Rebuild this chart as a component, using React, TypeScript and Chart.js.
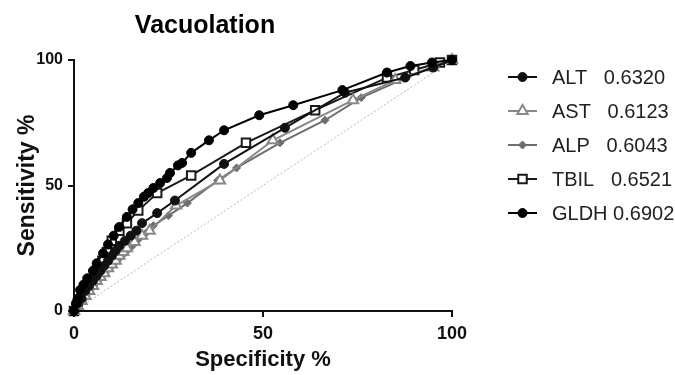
import React, { useEffect, useRef } from 'react';
import { Chart, registerables } from 'chart.js';

Chart.register(...registerables);

const TITLE = 'Vacuolation';
const X_TITLE = 'Specificity %';
const Y_TITLE = 'Sensitivity %';
const TICKS = [0, 50, 100];
const SERIES_NAMES = ['ALT', 'AST', 'ALP', 'TBIL', 'GLDH'];
const LEGEND_LABELS = ['ALT   0.6320', 'AST   0.6123', 'ALP   0.6043', 'TBIL   0.6521', 'GLDH 0.6902'];

const altX = [0, 1, 2, 3, 4, 5, 6, 7, 8, 9, 10, 11, 12, 13.5, 15, 16.5, 18, 22, 26.7, 39.7, 55.8, 71.7, 87.6, 95, 100];
const altY = [0, 3, 5, 8, 10, 12, 14, 16, 18, 20, 22, 24, 26, 28, 30, 32, 35, 39, 44, 58.6, 73, 87, 93, 97, 100];

const astX = [0, 1, 2, 3, 4, 5, 6, 7, 8, 9, 10, 11, 12, 13, 14, 16, 18, 20, 27, 38.6, 52.6, 73.8, 85, 95, 100];
const astY = [0, 2, 4, 6, 8, 10, 12, 13.5, 15, 17, 18.5, 20, 22, 23.5, 25, 27.5, 30, 32, 42, 52, 68, 84, 92, 97, 100];

const alpX = [0, 1, 2, 3, 4, 5, 6, 7, 8, 9, 10, 11, 12, 13, 14, 15.5, 17, 19, 21, 25, 30, 38, 43, 54.5, 66.4, 76, 88, 96, 100];
const alpY = [0, 2, 4, 5.5, 7.5, 9.5, 11.5, 13, 15, 16.5, 18, 19.5, 21, 22.5, 24, 26, 28.5, 31, 34, 38, 43, 52, 57, 67, 76, 85, 93, 98, 100];

const tbilX = [0, 1, 2, 3, 4.5, 6, 7.5, 8.7, 10, 12, 14, 17, 22, 31, 45.5, 63.8, 82.8, 90, 96.8, 100];
const tbilY = [0, 3, 6, 9, 12, 16, 20, 23.5, 28, 32, 35, 40, 47, 54, 67, 80, 93, 96, 99, 100];

const gldhX = [0, 0.5, 1, 1.6, 2.5, 3.5, 5, 6, 7.7, 9, 10.5, 12, 14, 15.5, 17, 18.5, 19.6, 21, 22.8, 24.6, 25.4, 27.5, 28.6, 31, 35.7, 39.7, 49, 58, 71, 82.8, 89, 94.7, 100];
const gldhY = [0, 3, 5, 8.4, 10.5, 13, 16, 19, 23, 26.5, 30, 33.5, 37.5, 40.5, 43, 45.5, 47, 49, 51, 53, 55, 58, 59, 63, 68, 72, 78, 82, 88, 95, 97.6, 99, 100];

const refX = [0, 100];
const refY = [0, 100];

const toPoints = (xs: number[], ys: number[]) => xs.map((x, i) => ({ x, y: ys[i] }));

type Marker = { style: string; color: string; fill: string; r: number; lw: number };

const MARKERS: Marker[] = [
  { style: 'circle', color: '#111', fill: '#111', r: 4.5, lw: 1 },
  { style: 'triangle', color: '#888', fill: '#fff', r: 6, lw: 2 },
  { style: 'rectRot', color: '#6e6e6e', fill: '#6e6e6e', r: 4, lw: 1 },
  { style: 'rect', color: '#1a1a1a', fill: '#fff', r: 6, lw: 2 },
  { style: 'circle', color: '#000', fill: '#000', r: 4.5, lw: 1 },
];

function drawMarker(ctx: CanvasRenderingContext2D, m: Marker, x: number, y: number) {
  ctx.save();
  ctx.beginPath();
  if (m.style === 'circle') {
    ctx.arc(x, y, m.r, 0, Math.PI * 2);
  } else if (m.style === 'triangle') {
    const r = m.r;
    ctx.moveTo(x, y - r);
    ctx.lineTo(x + r * Math.cos(Math.PI / 6), y + r / 2);
    ctx.lineTo(x - r * Math.cos(Math.PI / 6), y + r / 2);
    ctx.closePath();
  } else if (m.style === 'rectRot') {
    ctx.moveTo(x, y - m.r);
    ctx.lineTo(x + m.r, y);
    ctx.lineTo(x, y + m.r);
    ctx.lineTo(x - m.r, y);
    ctx.closePath();
  } else {
    const s = m.r * Math.SQRT1_2;
    ctx.rect(x - s, y - s, 2 * s, 2 * s);
  }
  ctx.fillStyle = m.fill;
  ctx.fill();
  ctx.lineWidth = m.lw;
  ctx.strokeStyle = m.color;
  ctx.stroke();
  ctx.restore();
}

const titlePlugin = {
  id: 'customTitle',
  afterDraw(chart: any) {
    const { ctx, chartArea } = chart;
    ctx.save();
    ctx.font = 'bold 25px "Liberation Sans", Arial, sans-serif';
    ctx.fillStyle = '#000';
    ctx.textAlign = 'center';
    ctx.textBaseline = 'alphabetic';
    ctx.fillText(TITLE, chartArea.left + 131, 33);
    ctx.restore();
  },
};

const legendPlugin = {
  id: 'customLegend',
  afterDraw(chart: any) {
    const { ctx, chartArea } = chart;
    ctx.save();
    LEGEND_LABELS.forEach((label, i) => {
      const y = chartArea.top + 17 + i * 34;
      const x0 = chartArea.right + 56;
      const x1 = chartArea.right + 85;
      const m = MARKERS[i];
      ctx.beginPath();
      ctx.moveTo(x0, y);
      ctx.lineTo(x1, y);
      ctx.lineWidth = 2;
      ctx.strokeStyle = m.color;
      ctx.stroke();
      drawMarker(ctx, m, (x0 + x1) / 2, y);
      ctx.font = '20px "Liberation Sans", Arial, sans-serif';
      ctx.fillStyle = '#222';
      ctx.textAlign = 'left';
      ctx.textBaseline = 'middle';
      ctx.fillText(label, chartArea.right + 100, y + 1);
    });
    ctx.restore();
  },
};

export default function App() {
  const canvasRef = useRef<HTMLCanvasElement | null>(null);

  useEffect(() => {
    document.body.style.margin = '0';
    const canvas = canvasRef.current;
    if (!canvas) return;

    const seriesXs = [altX, astX, alpX, tbilX, gldhX];
    const seriesYs = [altY, astY, alpY, tbilY, gldhY];

    const datasets: any[] = SERIES_NAMES.map((name, i) => {
      const m = MARKERS[i];
      return {
        label: name,
        data: toPoints(seriesXs[i], seriesYs[i]),
        borderColor: m.color,
        backgroundColor: m.fill,
        pointBorderColor: m.color,
        pointBackgroundColor: m.fill,
        pointStyle: m.style,
        pointRadius: m.r,
        pointBorderWidth: m.lw,
        borderWidth: 2,
        showLine: true,
        tension: 0,
        clip: false,
        order: i === 4 ? 0 : i + 1,
      };
    });

    datasets.push({
      label: 'reference',
      data: toPoints(refX, refY),
      borderColor: '#b5b5b5',
      borderWidth: 1,
      borderDash: [2, 2],
      pointRadius: 0,
      showLine: true,
      order: 20,
    });

    const chart = new Chart(canvas, {
      type: 'scatter',
      data: { datasets },
      options: {
        animation: false,
        responsive: false,
        devicePixelRatio: 1,
        layout: { padding: { top: 60, right: 223, left: 0, bottom: 0 } },
        plugins: {
          legend: { display: false },
          title: { display: false },
          tooltip: { enabled: false },
        },
        scales: {
          x: {
            type: 'linear',
            min: 0,
            max: 100,
            afterBuildTicks: (s: any) => {
              s.ticks = TICKS.map((v) => ({ value: v }));
            },
            afterFit: (s: any) => {
              s.height = 64;
            },
            border: { display: true, color: '#111', width: 2 },
            grid: {
              display: true,
              drawOnChartArea: false,
              drawTicks: true,
              tickLength: 6,
              color: '#111',
              lineWidth: 2,
            },
            ticks: {
              padding: 6,
              color: '#111',
              font: { family: '"Liberation Sans", Arial, sans-serif', size: 18, weight: 'bold' },
              maxRotation: 0,
            },
            title: {
              display: true,
              text: X_TITLE,
              color: '#111',
              padding: { top: 0, bottom: 2 },
              font: { family: '"Liberation Sans", Arial, sans-serif', size: 22, weight: 'bold' },
            },
          },
          y: {
            type: 'linear',
            min: 0,
            max: 100,
            afterBuildTicks: (s: any) => {
              s.ticks = TICKS.map((v) => ({ value: v }));
            },
            afterFit: (s: any) => {
              s.width = 74;
            },
            border: { display: true, color: '#111', width: 2 },
            grid: {
              display: true,
              drawOnChartArea: false,
              drawTicks: true,
              tickLength: 6,
              color: '#111',
              lineWidth: 2,
            },
            ticks: {
              padding: 5,
              color: '#111',
              font: { family: '"Liberation Sans", Arial, sans-serif', size: 16, weight: 'bold' },
            },
            title: {
              display: true,
              text: Y_TITLE,
              color: '#111',
              padding: { top: 14, bottom: 0 },
              font: { family: '"Liberation Sans", Arial, sans-serif', size: 23, weight: 'bold' },
            },
          },
        },
      },
      plugins: [titlePlugin, legendPlugin],
    });

    return () => {
      chart.destroy();
    };
  }, []);

  return (
    <div style={{ width: 675, height: 375, background: '#fff' }}>
      <canvas ref={canvasRef} width={675} height={375} style={{ display: 'block' }} />
    </div>
  );
}
